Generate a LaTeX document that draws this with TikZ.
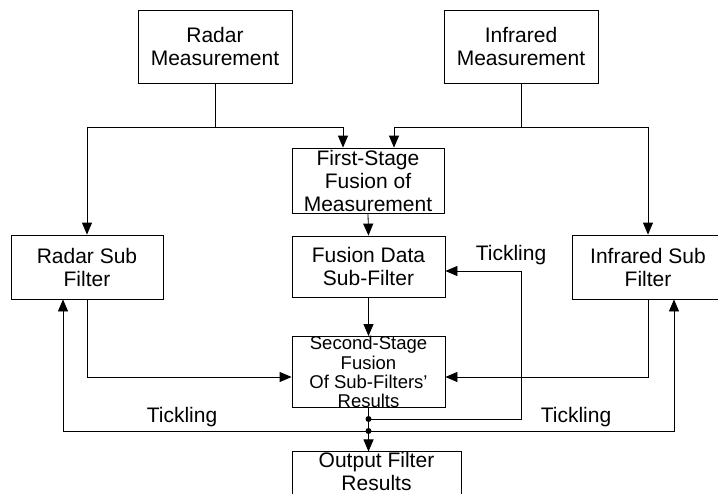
\documentclass[tikz,border=0pt]{standalone}
\usepackage{fontspec}
\setmainfont{Liberation Sans}
\usetikzlibrary{arrows.meta}
\tikzset{
  box/.style={draw, line width=0.8pt, inner sep=0pt, align=center, font=\fontsize{21}{23}\selectfont},
  smallbox/.style={box, font=\fontsize{18.5}{19.2}\selectfont},
  conn/.style={line width=0.8pt},
  arr/.style={conn, -{Triangle[length=12pt,width=10pt]}},
  lbl/.style={font=\fontsize{21}{23}\selectfont, inner sep=0pt},
  dot/.style={circle, fill, inner sep=0pt, minimum size=6pt}
}
\begin{document}
\begin{tikzpicture}[x=1pt,y=-1pt]
\clip (0,0) rectangle (718,493);
\fill[white] (0,0) rectangle (718,493);
\node[box, minimum width=154pt, minimum height=73pt] (radarM) at (215,46.5) {Radar\\Measurement};
\node[box, minimum width=154pt, minimum height=73pt] (irM) at (521,46.5) {Infrared\\Measurement};
\node[box, minimum width=152pt, minimum height=65pt] (first) at (368,180.5) {First-Stage\\Fusion of\\Measurement};
\node[box, minimum width=153pt, minimum height=61pt] (fusion) at (368.5,266.5) {Fusion Data\\Sub-Filter};
\node[box, minimum width=152pt, minimum height=64pt] (radarS) at (87,267) {Radar Sub\\Filter};
\node[box, minimum width=152pt, minimum height=64pt] (irS) at (648,267) {Infrared Sub\\Filter};
\node[smallbox, minimum width=153pt, minimum height=70pt] (second) at (368.5,372) {Second-Stage\\Fusion\\Of Sub-Filters’\\Results};
\node[box, minimum width=169pt, minimum height=41pt, text depth=5pt] (output) at (376.5,473.5) {Output Filter\\Results};

\coordinate (jr) at (215,127);
\coordinate (ji) at (521,127);
\draw[conn] (radarM.south) -- (jr);
\draw[conn] (irM.south) -- (ji);
\draw[arr] (jr) -| (radarS.north);
\draw[arr] (jr) -| ([xshift=-25pt]first.north);
\draw[arr] (ji) -| (irS.north);
\draw[arr] (ji) -| ([xshift=26pt]first.north);
\draw[arr] (first.south) -- (fusion.north);
\draw[arr] (fusion.south) -- (second.north);
\draw[arr] (radarS.south) |- ([yshift=-5pt]second.west);
\draw[arr] (irS.south) |- ([yshift=-5pt]second.east);

\node[dot] (d1) at (368.5,419) {};
\node[dot] (d2) at (368.5,431) {};
\coordinate (fb1) at (521,419);
\draw[conn] (second.south) -- (d1.center) -- (d2.center);
\draw[arr] (d2.center) -- (d2 |- output.north);
\draw[arr] (d1.center) -- (fb1) |- ([yshift=-4.5pt]fusion.east);
\draw[arr] (d2.center) -| ([xshift=-24pt]radarS.south);
\draw[arr] (d2.center) -| ([xshift=26pt]irS.south);

\node[lbl] (t1) at (511,255) {Tickling};
\node[lbl] (t2) at (182,417) {Tickling};
\node[lbl] (t3) at (576,417) {Tickling};
\end{tikzpicture}
\end{document}
